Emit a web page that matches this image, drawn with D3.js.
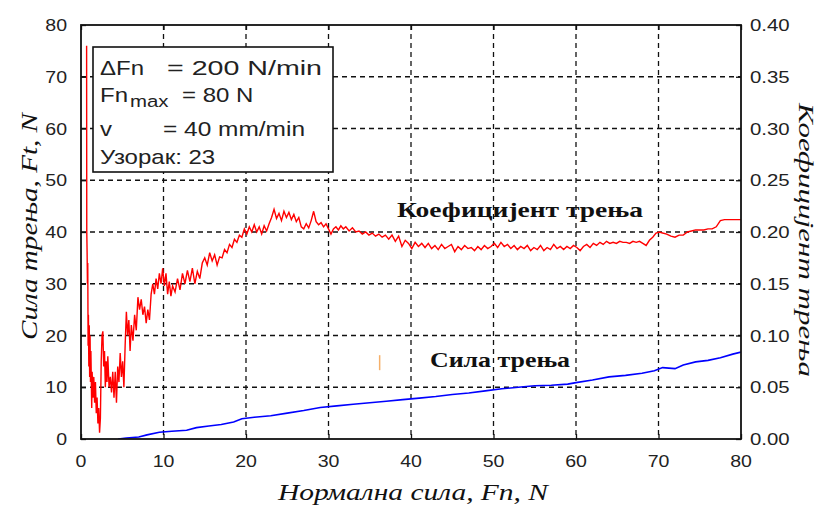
<!DOCTYPE html>
<html><head><meta charset="utf-8">
<script src="https://cdn.jsdelivr.net/npm/d3@7"></script>
<style>html,body{margin:0;padding:0;background:#fff}svg{display:block}</style>
</head><body>
<svg id="c" width="821" height="506"></svg>
<script>
// ---- data ----
const xTicks = [0,10,20,30,40,50,60,70,80];
const yLeftTicks = [0,10,20,30,40,50,60,70,80];
const yRightTicks = [0,0.05,0.10,0.15,0.20,0.25,0.30,0.35,0.40];
const xTitle = "Нормална сила, Fn, N";
const yLeftTitle = "Сила трења, Ft, N";
const yRightTitle = "Коефицијент трења";
const coefLabel = "Коефицијент трења";
const forceLabel = "Сила трења";
const infoLines = [
  ["ΔFn", "= 200 N/min"],
  ["Fn", "= 80 N"],
  ["v", "= 40 mm/min"],
  ["Узорак: 23", ""]
];
// coefficient of friction (right axis): [Fn, mu]
const coefData = [
[0.68,0.380],[0.70,0.200],[0.74,0.180],[0.78,0.150],[0.82,0.170],[0.86,0.090],[0.90,0.120],[0.95,0.070],[1.00,0.110],[1.05,0.060],
[1.10,0.100],[1.15,0.055],[1.20,0.085],[1.30,0.030],[1.35,0.065],[1.45,0.040],[1.55,0.060],[1.65,0.035],[1.75,0.055],[1.85,0.025],
[1.95,0.040],[2.05,0.015],[2.15,0.030],[2.25,0.006],[2.35,0.020],[2.45,0.075],[2.55,0.100],[2.65,0.104],[2.75,0.070],[2.85,0.085],
[2.95,0.050],[3.05,0.075],[3.15,0.055],[3.25,0.080],[3.40,0.050],[3.55,0.060],[3.70,0.045],[3.85,0.065],[4.00,0.040],[4.15,0.065],
[4.30,0.035],[4.45,0.070],[4.60,0.055],[4.75,0.083],[4.90,0.060],[5.05,0.075],[5.20,0.050],[5.35,0.090],[5.50,0.123],[5.65,0.100],
[5.80,0.115],[5.95,0.085],[6.10,0.110],[6.30,0.095],[6.50,0.120],[6.70,0.105],[6.90,0.137],[7.10,0.125],[7.30,0.135],[7.50,0.120],
[7.70,0.128],[7.90,0.112],[8.10,0.125],[8.30,0.115],[8.50,0.140],[8.70,0.150],[8.90,0.140],[9.10,0.155],[9.30,0.145],[9.50,0.160],
[9.70,0.150],[9.90,0.165],[10.1,0.148],[10.3,0.160],[10.5,0.140],[10.7,0.152],[10.9,0.138],[11.1,0.148],[11.4,0.142],[11.7,0.155],
[12.0,0.144],[12.3,0.160],[12.6,0.150],[12.9,0.163],[13.2,0.152],[13.5,0.165],[13.8,0.150],[14.1,0.162],[14.4,0.155],[14.7,0.170],
[15.0,0.175],[15.3,0.168],[15.6,0.180],[15.9,0.172],[16.2,0.178],[16.5,0.168],[16.8,0.176],[17.1,0.175],[17.4,0.183],[17.7,0.180],
[18.0,0.188],[18.3,0.185],[18.6,0.193],[18.9,0.190],[19.2,0.197],[19.5,0.195],[19.8,0.203],[20.1,0.198],[20.4,0.205],[20.7,0.200],
[21.0,0.207],[21.3,0.200],[21.6,0.205],[21.9,0.198],[22.2,0.206],[22.5,0.201],[22.8,0.208],[23.1,0.214],[23.4,0.222],[23.7,0.213],
[24.0,0.218],[24.3,0.211],[24.6,0.220],[24.9,0.214],[25.2,0.219],[25.5,0.212],[25.8,0.217],[26.1,0.210],[26.4,0.214],[26.7,0.205],
[27.0,0.203],[27.3,0.208],[27.6,0.204],[27.9,0.211],[28.2,0.220],[28.5,0.210],[28.8,0.207],[29.1,0.209],[29.4,0.205],[29.7,0.208],
[30.0,0.203],[30.3,0.198],[30.6,0.203],[30.9,0.205],[31.2,0.202],[31.5,0.206],[31.8,0.203],[32.1,0.205],[32.5,0.201],[32.9,0.204],
[33.3,0.200],[33.7,0.201],[34.1,0.198],[34.5,0.200],[34.9,0.197],[35.3,0.199],[35.7,0.196],[36.1,0.198],[36.5,0.195],[36.9,0.197],
[37.3,0.193],[37.7,0.197],[38.1,0.191],[38.5,0.196],[38.9,0.186],[39.3,0.192],[39.7,0.189],[40.1,0.184],[40.5,0.190],[40.9,0.186],
[41.3,0.189],[41.7,0.185],[42.1,0.189],[42.5,0.184],[42.9,0.187],[43.3,0.183],[43.7,0.188],[44.1,0.184],[44.5,0.186],[44.9,0.188],
[45.3,0.181],[45.7,0.186],[46.1,0.183],[46.5,0.187],[46.9,0.184],[47.3,0.185],[47.7,0.182],[48.1,0.186],[48.5,0.183],[48.9,0.187],
[49.3,0.184],[49.7,0.186],[50.1,0.189],[50.5,0.185],[50.9,0.190],[51.3,0.186],[51.7,0.188],[52.1,0.184],[52.5,0.187],[52.9,0.183],
[53.3,0.186],[53.7,0.184],[54.1,0.187],[54.5,0.182],[54.9,0.185],[55.3,0.183],[55.7,0.187],[56.1,0.182],[56.5,0.185],[56.9,0.183],
[57.3,0.188],[57.7,0.184],[58.1,0.186],[58.5,0.183],[58.9,0.186],[59.3,0.184],[59.7,0.187],[60.1,0.185],[60.5,0.182],[60.9,0.186],
[61.3,0.188],[61.7,0.185],[62.1,0.189],[62.5,0.187],[62.9,0.190],[63.3,0.188],[63.7,0.191],[64.1,0.189],[64.5,0.190],[64.9,0.189],
[65.3,0.191],[65.7,0.190],[66.1,0.190],[66.5,0.189],[66.9,0.191],[67.3,0.190],[67.7,0.191],[68.1,0.189],[68.5,0.187],[68.9,0.192],
[69.3,0.195],[69.7,0.199],[70.1,0.200],[70.5,0.199],[71.0,0.198],[71.5,0.196],[72.0,0.195],[72.5,0.197],[73.0,0.197],[73.5,0.200],
[74.0,0.201],[74.5,0.202],[75.0,0.202],[75.5,0.202],[76.0,0.203],[76.5,0.203],[77.0,0.205],[77.5,0.211],[78.0,0.212],[78.5,0.212],
[79.0,0.212],[79.5,0.212],[80.0,0.212]
];
// friction force (left axis): [Fn, Ft]
const forceData = [
[4.5,0.0],[5.5,0.2],[7.0,0.4],[8.0,0.8],[9.5,1.3],[11.0,1.5],[12.8,1.7],[14.0,2.2],[15.5,2.5],[17.0,2.8],[18.5,3.3],[19.5,3.9],
[21.0,4.2],[23.0,4.5],[25.0,5.0],[27.0,5.5],[29.0,6.1],[31.0,6.4],[33.0,6.7],[35.0,7.0],[37.0,7.3],[39.0,7.6],[41.0,7.9],[43.0,8.2],
[45.0,8.6],[47.0,8.9],[49.0,9.3],[51.0,9.7],[53.0,10.0],[55.0,10.3],[57.0,10.4],[59.0,10.6],[60.0,10.9],[62.0,11.4],[64.0,12.0],
[66.0,12.3],[68.0,12.7],[69.5,13.2],[70.5,13.8],[72.0,13.6],[73.0,14.3],[74.5,14.9],[76.0,15.2],[77.5,15.7],[79.0,16.4],[80.0,16.8]
];
const strayMark = [[36.2,13.3],[36.2,16.2]];

// ---- chart ----
const svg = d3.select("#c");
const L=81, R=741, T=25, B=439;
const x = d3.scaleLinear().domain([0,80]).range([L,R]);
const yL = d3.scaleLinear().domain([0,80]).range([B,T]);
const yR = d3.scaleLinear().domain([0,0.4]).range([B,T]);
const sans = "'Liberation Sans', Arial, sans-serif";
const serif = "'Liberation Serif', 'DejaVu Serif', serif";

// grid
const g = svg.append("g");
g.selectAll(".vg").data(xTicks.slice(1,-1)).join("line")
  .attr("x1",d=>x(d)).attr("x2",d=>x(d)).attr("y1",T).attr("y2",B)
  .attr("stroke","#111").attr("stroke-width",1.3).attr("stroke-dasharray","5,4");
g.selectAll(".hg").data(yLeftTicks.slice(1,-1)).join("line")
  .attr("x1",L).attr("x2",R).attr("y1",d=>yL(d)).attr("y2",d=>yL(d))
  .attr("stroke","#111").attr("stroke-width",1.3).attr("stroke-dasharray","5,4");

// axes with inward ticks
const ax = (axis, tr) => svg.append("g").attr("transform",tr).call(axis).call(s=>{
  s.select(".domain").remove(); s.selectAll("text").remove();
  s.selectAll("line").attr("stroke","#111").attr("stroke-width",1.3);
});
ax(d3.axisBottom(x).tickValues(xTicks).tickSize(-5), `translate(0,${B})`);
ax(d3.axisTop(x).tickValues(xTicks).tickSize(-5), `translate(0,${T})`);
ax(d3.axisLeft(yL).tickValues(yLeftTicks).tickSize(-5), `translate(${L},0)`);
ax(d3.axisRight(yR).tickValues(yRightTicks).tickSize(-5), `translate(${R},0)`);

// text helper
function txt(parent, str, px, py, opts){
  const t = parent.append("text")
    .attr("transform",`translate(${px},${py}) rotate(${opts.rot||0}) scale(${opts.sx||1},1)`)
    .attr("font-family",opts.ff||sans).attr("font-size",opts.fs||17)
    .attr("fill",opts.fill||"#222").attr("text-anchor",opts.anchor||"start")
    .attr("font-style",opts.style||"normal").attr("font-weight",opts.weight||"normal")
    .text(str);
  if(opts.len){ t.attr("textLength",opts.len).attr("lengthAdjust","spacingAndGlyphs"); }
  return t;
}
xTicks.forEach(d=>txt(svg,String(d),x(d),467,{anchor:"middle",sx:1.15}));
yLeftTicks.forEach(d=>txt(svg,String(d),67,yL(d)+6,{anchor:"end",sx:1.15}));
yRightTicks.forEach(d=>txt(svg,d.toFixed(2),750,yR(d)+6,{anchor:"start",sx:1.2}));

// lines
const clipId="clipPlot";
svg.append("clipPath").attr("id",clipId).append("rect").attr("x",L).attr("y",T-2).attr("width",R-L).attr("height",B-T+2);
svg.append("path").datum(forceData).attr("clip-path",`url(#${clipId})`)
  .attr("d",d3.line().x(d=>x(d[0])).y(d=>yL(d[1])))
  .attr("fill","none").attr("stroke","#0000ff").attr("stroke-width",1.6);
svg.append("path").datum(coefData).attr("clip-path",`url(#${clipId})`)
  .attr("d",d3.line().x(d=>x(d[0])).y(d=>yR(d[1])))
  .attr("fill","none").attr("stroke","#ff0000").attr("stroke-width",1.4);
svg.append("path").datum(strayMark)
  .attr("d",d3.line().x(d=>x(d[0])).y(d=>yL(d[1])))
  .attr("fill","none").attr("stroke","#f5b06a").attr("stroke-width",1.5);

// frame
svg.append("rect").attr("x",L).attr("y",T).attr("width",R-L).attr("height",B-T)
  .attr("fill","none").attr("stroke","#111").attr("stroke-width",1.8);

// info box
const bx = svg.append("g");
bx.append("rect").attr("x",93).attr("y",47).attr("width",240).attr("height",125)
  .attr("fill","#fff").attr("stroke","#111").attr("stroke-width",1.6);
txt(bx, infoLines[0][0], 100, 75, {fs:20, sx:1.2});
txt(bx, infoLines[0][1], 167, 75, {fs:20, len:155});
txt(bx, infoLines[1][0], 100, 102, {fs:20, sx:1.2});
txt(bx, "max", 130, 107, {fs:17, sx:1.2});
txt(bx, infoLines[1][1], 182, 102, {fs:20, sx:1.2});
txt(bx, infoLines[2][0], 100, 136, {fs:20, sx:1.2});
txt(bx, infoLines[2][1], 163, 136, {fs:20, len:142});
txt(bx, infoLines[3][0], 100, 164, {fs:20, sx:1.2});

// series labels
txt(svg, coefLabel, 397, 217, {ff:serif, fs:22, weight:"bold", fill:"#111", len:246});
txt(svg, forceLabel, 430, 367, {ff:serif, fs:22, weight:"bold", fill:"#111", len:140});

// axis titles
txt(svg, xTitle, 278, 500, {ff:serif, fs:24, style:"italic", fill:"#111", len:270});
txt(svg, yLeftTitle, 37, 340, {ff:serif, fs:24, style:"italic", fill:"#111", rot:-90, len:227});
txt(svg, yRightTitle, 799, 103, {ff:serif, fs:21, style:"italic", fill:"#111", rot:90, len:274});
</script>
</body></html>
